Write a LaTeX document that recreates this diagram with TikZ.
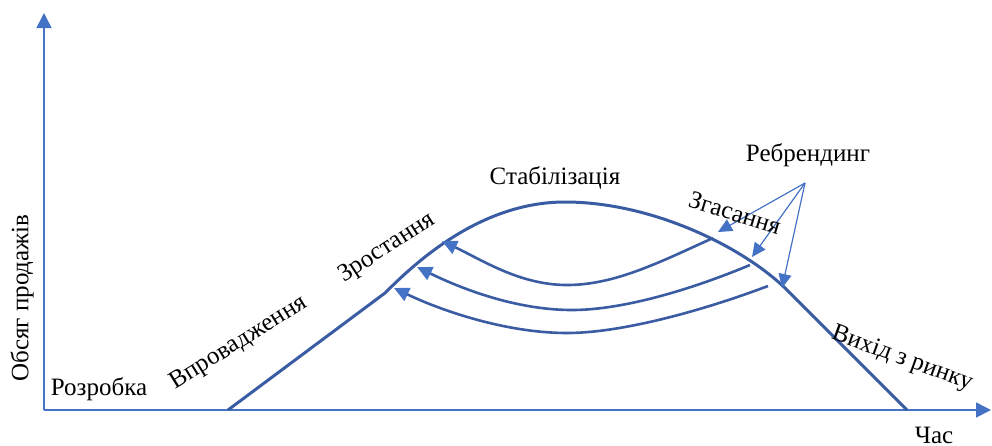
\documentclass[tikz,border=0pt]{standalone}
\usepackage{fontspec}
\setmainfont{Liberation Serif}
\newfontfamily\tnr{Liberation Serif}
\usetikzlibrary{arrows.meta}
\definecolor{axisblue}{HTML}{4472C4}
\definecolor{curveblue}{HTML}{3A5CA3}
\tikzset{
  lbl/.style={font=\tnr\fontsize{25}{29}\selectfont, inner sep=0pt, text=black},
  axisline/.style={draw=axisblue, line width=1.6pt, -{Triangle[length=15pt,width=15pt,color=axisblue]}},
  lifecurve/.style={draw=curveblue, line width=3pt},
  backarrow/.style={draw=curveblue, line width=2.6pt, -{Triangle[length=15pt,width=14pt,color=axisblue]}},
  rbarrow/.style={draw=axisblue, line width=1.2pt, -{Triangle[length=14pt,width=13pt,color=axisblue]}}
}
\begin{document}
\begin{tikzpicture}[x=1pt,y=-1pt]
\useasboundingbox (0,0) rectangle (992,445);
% axes
\coordinate (O) at (44,410);
\coordinate (ytip) at (44,13);
\coordinate (xtip) at (991,410);
\draw[axisline] (O) -- (ytip);
\draw[axisline] (O) -- (xtip);
% life cycle curve
\coordinate (c0) at (228,410);
\coordinate (c1) at (385,293);
\coordinate (cpk) at (565,202);
\coordinate (c2) at (785,288);
\coordinate (c3) at (907,410);
\draw[lifecurve] (c0) -- (c1) .. controls (415,263) and (480,202) .. (cpk)
  .. controls (650,202) and (740,245) .. (c2) -- (c3);
% back arrows
\coordinate (s1) at (713,238); \coordinate (b1) at (567,285); \coordinate (e1) at (442,241);
\coordinate (s2) at (750,265); \coordinate (b2) at (572,310); \coordinate (e2) at (417,267);
\coordinate (s3) at (768,286); \coordinate (b3) at (567,333); \coordinate (e3) at (394,288);
\draw[backarrow] (s1) .. controls (660,262) and (615,285) .. (b1) .. controls (520,285) and (482,260) .. (e1);
\draw[backarrow] (s2) .. controls (695,288) and (625,310) .. (b2) .. controls (515,310) and (460,288) .. (e2);
\draw[backarrow] (s3) .. controls (710,308) and (625,333) .. (b3) .. controls (505,333) and (440,310) .. (e3);
% rebranding arrows
\coordinate (rb) at (805,183);
\coordinate (r1) at (718,232);
\coordinate (r2) at (752,257);
\coordinate (r3) at (782,288);
\draw[rbarrow] (rb) -- (r1);
\draw[rbarrow] (rb) -- (r2);
\draw[rbarrow] (rb) -- (r3);
% labels
\node[lbl, rotate=90] (ylab) at (22,298) {Обсяг продажів};
\node[lbl] (xlab) at (934,435) {Час};
\node[lbl] (rozr) at (99,389) {Розробка};
\node[lbl, rotate=32] (vpr) at (239,343) {Впровадження};
\node[lbl, rotate=33] (zr) at (387,248) {Зростання};
\node[lbl] (stab) at (555,178) {Стабілізація};
\node[lbl, rotate=-17] (zgas) at (735,213) {Згасання};
\node[lbl] (rebr) at (808,155) {Ребрендинг};
\node[lbl, rotate=-20] (vyh) at (902,359) {Вихід з ринку};
\end{tikzpicture}
\end{document}
